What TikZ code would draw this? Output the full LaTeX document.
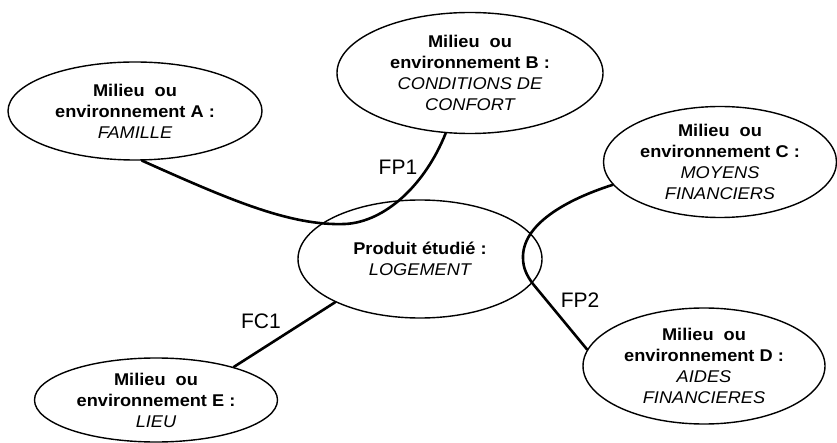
\documentclass[tikz,border=0pt]{standalone}
\usepackage{fontspec}
\setmainfont{Liberation Sans}[FakeStretch=1.07]
\newfontfamily\lblfont{Liberation Sans}
\usetikzlibrary{shapes.geometric}
\begin{document}
\begin{tikzpicture}[x=1pt,y=-1pt,
  env/.style={draw, ellipse, line width=1.4pt, inner sep=0pt, align=center,
    font=\fontsize{17}{21}\selectfont\bfseries},
  conn/.style={line width=2.6pt, line cap=round},
  lbl/.style={font=\lblfont\fontsize{21}{24}\selectfont}]
\useasboundingbox (0,0) rectangle (837,443);
\node[env, minimum width=254pt, minimum height=98pt] (A) at (135,111)
  {Milieu\ \ ou\\environnement A :\\\mdseries\itshape FAMILLE};
\node[env, minimum width=266pt, minimum height=121pt] (B) at (470,73)
  {Milieu\ \ ou\\environnement B :\\\mdseries\itshape CONDITIONS DE\\\mdseries\itshape CONFORT};
\node[env, minimum width=233pt, minimum height=111pt] (C) at (720,162)
  {Milieu\ \ ou\\environnement C :\\\mdseries\itshape MOYENS\\\mdseries\itshape FINANCIERS};
\node[env, minimum width=244pt, minimum height=118pt] (P) at (420,259)
  {Produit étudié :\\\mdseries\itshape LOGEMENT};
\node[env, minimum width=242pt, minimum height=116pt] (D) at (704,366)
  {Milieu\ \ ou\\environnement D :\\\mdseries\itshape AIDES\\\mdseries\itshape FINANCIERES};
\node[env, minimum width=243pt, minimum height=84pt] (E) at (156,400)
  {Milieu\ \ ou\\environnement E :\\\mdseries\itshape LIEU};
\draw[conn] (A.-82) .. controls (230,200) and (290,226) .. (345,224)
  .. controls (385,222) and (425,185) .. (B.-112);
\draw[conn] (C.-168) .. controls (565,200) and (522,225) .. (523,258)
  .. controls (523,268) and (527,276) .. (533,284) -- (D.172);
\draw[conn] (P.-153) -- (E.23);
\node[lbl] (fp1) at (398,167) {FP1};
\node[lbl] (fp2) at (580,300) {FP2};
\node[lbl] (fc1) at (261,321) {FC1};
\end{tikzpicture}
\end{document}
